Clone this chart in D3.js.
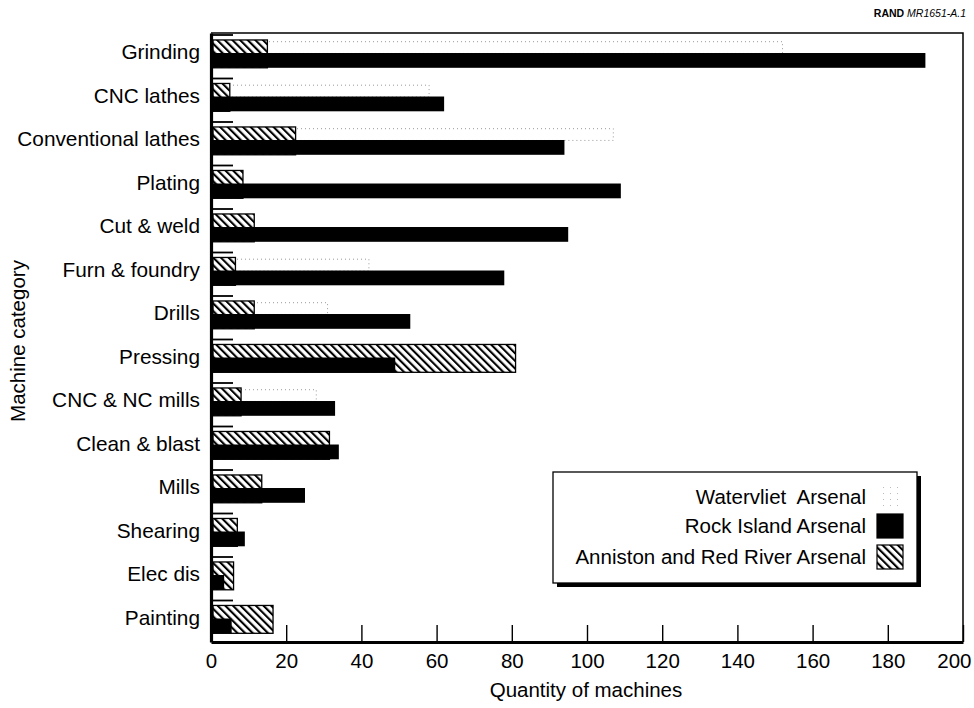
<!DOCTYPE html>
<html>
<head>
<meta charset="utf-8">
<script src="https://cdn.jsdelivr.net/npm/d3@7/dist/d3.min.js"></script>
<style>
  html, body { margin: 0; padding: 0; background: #fff; }
  svg { display: block; font-family: "Liberation Sans", Arial, Helvetica, sans-serif; }
</style>
</head>
<body>
<svg id="chart" width="974" height="708"></svg>
<script>
// ---- data ----
const categories = ["Grinding", "CNC lathes", "Conventional lathes", "Plating", "Cut & weld",
  "Furn & foundry", "Drills", "Pressing", "CNC & NC mills", "Clean & blast", "Mills",
  "Shearing", "Elec dis", "Painting"];
const watervliet = [152, 58, 107, 0, 0, 42, 31, 0, 28, 0, 0, 0, 0, 0];
const rockIsland = [190, 62, 94, 109, 95, 78, 53, 49, 33, 34, 25, 9, 3.5, 5.5];
const anniston   = [15, 5, 22.5, 8.5, 11.5, 6.5, 11.5, 81, 8, 31.5, 13.5, 7, 6, 16.5];
const seriesNames = ["Watervliet  Arsenal", "Rock Island Arsenal", "Anniston and Red River Arsenal"];
const xTicks = [0, 20, 40, 60, 80, 100, 120, 140, 160, 180, 200];
const xTitle = "Quantity of machines";
const yTitle = "Machine category";

// ---- layout ----
const svg = d3.select("#chart");
const L = 211, R = 963, T = 33, B = 642;
const x = d3.scaleLinear().domain([0, 200]).range([L, R]);
const y = d3.scaleBand().domain(categories).range([T, B]).paddingInner(0).paddingOuter(0);
const bw = y.bandwidth();

// patterns
const defs = svg.append("defs");
const hatch = defs.append("pattern").attr("id", "hatch")
  .attr("patternUnits", "userSpaceOnUse").attr("width", 5.4).attr("height", 5.4)
  .attr("patternTransform", "rotate(-45)");
hatch.append("rect").attr("width", 5.4).attr("height", 5.4).attr("fill", "#fff");
hatch.append("rect").attr("x", 0).attr("width", 2.1).attr("height", 5.4).attr("fill", "#000");

const dots = defs.append("pattern").attr("id", "dots")
  .attr("patternUnits", "userSpaceOnUse").attr("width", 7).attr("height", 6);
dots.append("rect").attr("width", 7).attr("height", 6).attr("fill", "#fff");
dots.append("rect").attr("x", 1).attr("y", 1).attr("width", 1).attr("height", 1).attr("fill", "#bbb");

// frame (top & right thin lines)
svg.append("path")
  .attr("d", `M${L},${T}H${R}V${B}`)
  .attr("fill", "none").attr("stroke", "#000").attr("stroke-width", 1.5);

// stubs at band tops
svg.append("g").selectAll("line").data(categories).join("line")
  .attr("x1", L + 2).attr("x2", L + 22)
  .attr("y1", d => y(d) + 2).attr("y2", d => y(d) + 2)
  .attr("stroke", "#000").attr("stroke-width", 1.8);

// Watervliet bars (faint dotted outlines)
svg.append("g").selectAll("rect").data(categories.map((c, i) => ({c, v: watervliet[i]})).filter(d => d.v > 0))
  .join("rect")
  .attr("x", x(0) + 2).attr("y", d => y(d.c) + bw * 0.2)
  .attr("width", d => x(d.v) - x(0) - 2).attr("height", bw * 0.27)
  .attr("fill", "#fff").attr("stroke", "#999").attr("stroke-width", 1)
  .attr("stroke-dasharray", "1,3");

// Anniston hatched bars
svg.append("g").selectAll("rect").data(categories.map((c, i) => ({c, v: anniston[i]})))
  .join("rect")
  .attr("x", x(0) + 2).attr("y", d => y(d.c) + bw * 0.16)
  .attr("width", d => x(d.v) - x(0) - 2).attr("height", bw * 0.64)
  .attr("fill", "url(#hatch)").attr("stroke", "#000").attr("stroke-width", 1.3);

// Rock Island black bars
svg.append("g").selectAll("rect").data(categories.map((c, i) => ({c, v: rockIsland[i]})))
  .join("rect")
  .attr("x", x(0)).attr("y", d => y(d.c) + bw * 0.46)
  .attr("width", d => x(d.v) - x(0)).attr("height", bw * 0.34)
  .attr("fill", "#000");

// x axis
const xAxis = d3.axisBottom(x).tickValues(xTicks).tickSize(-17).tickSizeOuter(0).tickPadding(11)
  .tickFormat(d3.format("d"));
const gx = svg.append("g").attr("transform", `translate(0,${B})`).call(xAxis);
gx.select(".domain").attr("stroke-width", 3.2);
gx.selectAll(".tick line").attr("stroke-width", 1.4);
gx.selectAll(".tick text").attr("font-size", 20.5).attr("font-family", "Liberation Sans, Arial, sans-serif").attr("fill", "#000");
gx.selectAll(".tick text").filter(d => d === 200).attr("text-anchor", "end").attr("dx", 8);

// y axis
const yAxis = d3.axisLeft(y).tickSize(0).tickSizeOuter(0).tickPadding(11);
const gy = svg.append("g").attr("transform", `translate(${L},0)`).call(yAxis);
gy.select(".domain").attr("stroke-width", 3.2);
gy.selectAll(".tick text").attr("font-size", 20.8).attr("font-family", "Liberation Sans, Arial, sans-serif")
  .attr("fill", "#000").attr("dy", "0.22em");

// axis titles
svg.append("text").attr("x", (L + R) / 2 - 1).attr("y", 697).attr("text-anchor", "middle")
  .attr("font-size", 20.5).text(xTitle);
svg.append("text").attr("transform", `translate(25,341) rotate(-90)`)
  .attr("text-anchor", "middle").attr("font-size", 20.5).text(yTitle);

// RAND label
const rl = svg.append("text").attr("x", 966).attr("y", 17).attr("text-anchor", "end").attr("font-size", 10.5);
rl.append("tspan").attr("font-weight", "bold").text("RAND ");
rl.append("tspan").attr("font-style", "italic").text("MR1651-A.1");

// legend
const lg = svg.append("g");
const lx0 = 553, ly0 = 472, lw = 364, lh = 111;
lg.append("rect").attr("x", lx0 + 4).attr("y", ly0 + 4).attr("width", lw).attr("height", lh).attr("fill", "#000");
lg.append("rect").attr("x", lx0).attr("y", ly0).attr("width", lw).attr("height", lh)
  .attr("fill", "#fff").attr("stroke", "#000").attr("stroke-width", 1.3);
const fills = ["url(#dots)", "#000", "url(#hatch)"];
const strokes = ["none", "#000", "#000"];
const rowY = [497, 526, 557];
seriesNames.forEach((name, i) => {
  lg.append("text").attr("x", 866).attr("y", rowY[i]).attr("dy", "0.35em")
    .attr("text-anchor", "end").attr("font-size", 20.5).style("white-space", "pre").text(name);
  lg.append("rect").attr("x", 877).attr("y", rowY[i] - 12).attr("width", 26).attr("height", 24)
    .attr("fill", fills[i]).attr("stroke", strokes[i]).attr("stroke-width", 1.2);
});
</script>
</body>
</html>
